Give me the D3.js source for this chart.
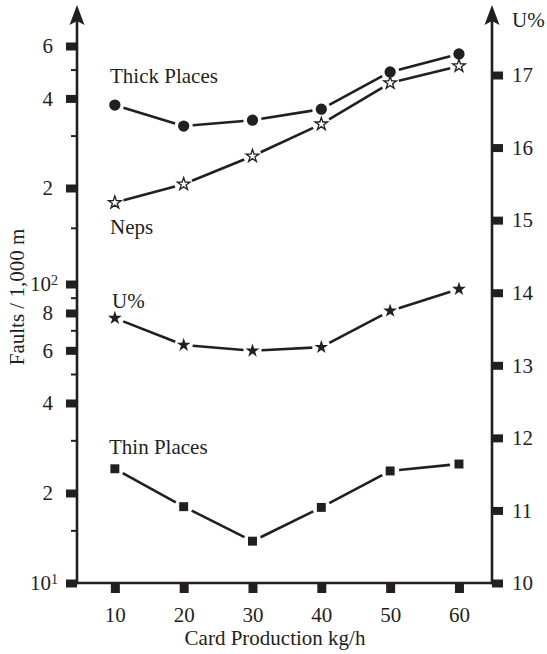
<!DOCTYPE html>
<html>
<head>
<meta charset="utf-8">
<script src="https://cdn.jsdelivr.net/npm/d3@7"></script>
<style>
  html, body { margin: 0; padding: 0; background: #fff; }
  svg text { font-family: "Liberation Serif", "Times New Roman", Times, serif; fill: #231f20; }
</style>
</head>
<body>
<svg id="chart" width="547" height="654"></svg>
<script>
// ---- Data ----
const production = [10, 20, 30, 40, 50, 60];
const thickPlaces = [380, 323, 338, 368, 491, 564];
const neps = [180, 206, 256, 328, 451, 514];
const thinPlaces = [24.1, 18.0, 13.8, 17.9, 23.7, 25.0];
const uPercent = [13.65, 13.28, 13.2, 13.25, 13.75, 14.05];

const leftMajorTicks = [10, 20, 40, 60, 80, 100, 200, 400, 600];
const leftMajorLabels = ["10^1", "2", "4", "6", "8", "10^2", "2", "4", "6"];
const leftMinorTicks = [15, 30, 50, 70, 90, 150, 300, 500];
const rightTicks = [10, 11, 12, 13, 14, 15, 16, 17];
const xTicks = [10, 20, 30, 40, 50, 60];

const labels = {
  thick: "Thick Places", neps: "Neps", u: "U%", thin: "Thin Places",
  xTitle: "Card Production kg/h", yTitle: "Faults / 1,000 m", yRightTitle: "U%"
};

// ---- Layout ----
const ink = "#231f20";
const serif = '"Liberation Serif", "Times New Roman", Times, serif';
const svg = d3.select("#chart");
const x = d3.scaleLinear().domain([4.5, 64.8]).range([77, 492]);
const yL = d3.scaleLog().domain([10, 100, 200, 600]).range([583, 284, 188, 46]);
const yR = d3.scaleLinear().domain([10, 17]).range([583, 75]);
const x0 = x.range()[0], x1 = x.range()[1], yBase = yL(10), yTop = 8;
const fs = 21;

// ---- Axes ----
// left major
const gL = svg.append("g").attr("transform", `translate(${x0},0)`)
  .call(d3.axisLeft(yL).tickValues(leftMajorTicks).tickSize(11).tickPadding(13)
    .tickFormat((d, i) => leftMajorLabels[i]));
gL.attr("font-family", serif);
gL.select(".domain").remove();
gL.selectAll(".tick line").attr("stroke", ink).attr("stroke-width", 8);
gL.selectAll(".tick text").attr("font-size", fs)
  .each(function(d, i) {
    const lab = leftMajorLabels[i];
    if (lab.includes("^")) {
      const [b, e] = lab.split("^");
      const t = d3.select(this).text(null);
      t.append("tspan").text(b);
      t.append("tspan").text(e).attr("font-size", 14).attr("dy", "-0.45em");
      t.attr("x", -19);
    }
  });
// left minor
const gLm = svg.append("g").attr("transform", `translate(${x0},0)`)
  .call(d3.axisLeft(yL).tickValues(leftMinorTicks).tickSize(6).tickFormat(""));
gLm.select(".domain").remove();
gLm.selectAll(".tick line").attr("stroke", ink).attr("stroke-width", 2);

// bottom
const gB = svg.append("g").attr("transform", `translate(0,${yBase})`)
  .call(d3.axisBottom(x).tickValues(xTicks).tickSize(10).tickPadding(14).tickFormat(d3.format("d")));
gB.attr("font-family", serif);
gB.select(".domain").remove();
gB.selectAll(".tick line").attr("stroke", ink).attr("stroke-width", 9);
gB.selectAll(".tick text").attr("font-size", fs);

// right
const gR = svg.append("g").attr("transform", `translate(${x1},0)`)
  .call(d3.axisRight(yR).tickValues(rightTicks).tickSize(11).tickPadding(9).tickFormat(d3.format("d")));
gR.attr("font-family", serif);
gR.select(".domain").remove();
gR.selectAll(".tick line").attr("stroke", ink).attr("stroke-width", 8);
gR.selectAll(".tick text").attr("font-size", fs);

// axis lines
const axisStroke = 2.6;
svg.append("line").attr("x1", x0).attr("x2", x0).attr("y1", yBase + 1.3).attr("y2", yTop + 12)
  .attr("stroke", ink).attr("stroke-width", axisStroke);
svg.append("line").attr("x1", x1).attr("x2", x1).attr("y1", yBase + 1.3).attr("y2", yTop + 12)
  .attr("stroke", ink).attr("stroke-width", axisStroke);
svg.append("line").attr("x1", x0).attr("x2", x1).attr("y1", yBase).attr("y2", yBase)
  .attr("stroke", ink).attr("stroke-width", axisStroke);
function arrow(cx) {
  svg.append("path")
    .attr("d", `M${cx},${yTop - 3} L${cx + 7.5},${yTop + 17} L${cx},${yTop + 13} L${cx - 7.5},${yTop + 17} Z`)
    .attr("fill", ink);
}
arrow(x0); arrow(x1);

// axis titles
svg.append("text").attr("x", 275).attr("y", 645).attr("text-anchor", "middle")
  .attr("font-family", serif).attr("font-size", fs).text(labels.xTitle);
svg.append("text").attr("transform", "translate(24,297) rotate(-90)").attr("text-anchor", "middle")
  .attr("font-family", serif).attr("font-size", fs).text(labels.yTitle);
svg.append("text").attr("x", 512).attr("y", 27).attr("font-family", serif)
  .attr("font-size", fs).text(labels.yRightTitle);

// ---- Series ----
function drawSeries(values, yScale, symbol, size, fill, gap) {
  const pts = production.map((p, i) => [x(p), yScale(values[i])]);
  const g = svg.append("g");
  for (let i = 0; i < pts.length - 1; i++) {
    const [ax, ay] = pts[i], [bx, by] = pts[i + 1];
    const dx = bx - ax, dy = by - ay, L = Math.hypot(dx, dy);
    const ux = dx / L, uy = dy / L;
    g.append("line")
      .attr("x1", ax + ux * gap).attr("y1", ay + uy * gap)
      .attr("x2", bx - ux * gap).attr("y2", by - uy * gap)
      .attr("stroke", ink).attr("stroke-width", 2.6);
  }
  g.selectAll("path.m").data(pts).join("path").attr("class", "m")
    .attr("transform", d => `translate(${d[0]},${d[1]})`)
    .attr("d", d3.symbol(symbol, size))
    .attr("fill", fill).attr("stroke", ink).attr("stroke-width", fill === "#fff" ? 1.3 : 0);
}
drawSeries(thickPlaces, yL, d3.symbolCircle, 100, ink, 9);
drawSeries(neps, yL, d3.symbolStar, 50, "#fff", 9);
drawSeries(uPercent, yR, d3.symbolStar, 60, ink, 9);
drawSeries(thinPlaces, yL, d3.symbolSquare, 80, ink, 9);

// series labels
const lab = (t, xx, yy) => svg.append("text").attr("x", xx).attr("y", yy)
  .attr("font-family", serif).attr("font-size", fs).text(t);
lab(labels.thick, 110, 83);
lab(labels.neps, 110, 234);
lab(labels.u, 112, 308);
lab(labels.thin, 109, 454);
</script>
</body>
</html>
